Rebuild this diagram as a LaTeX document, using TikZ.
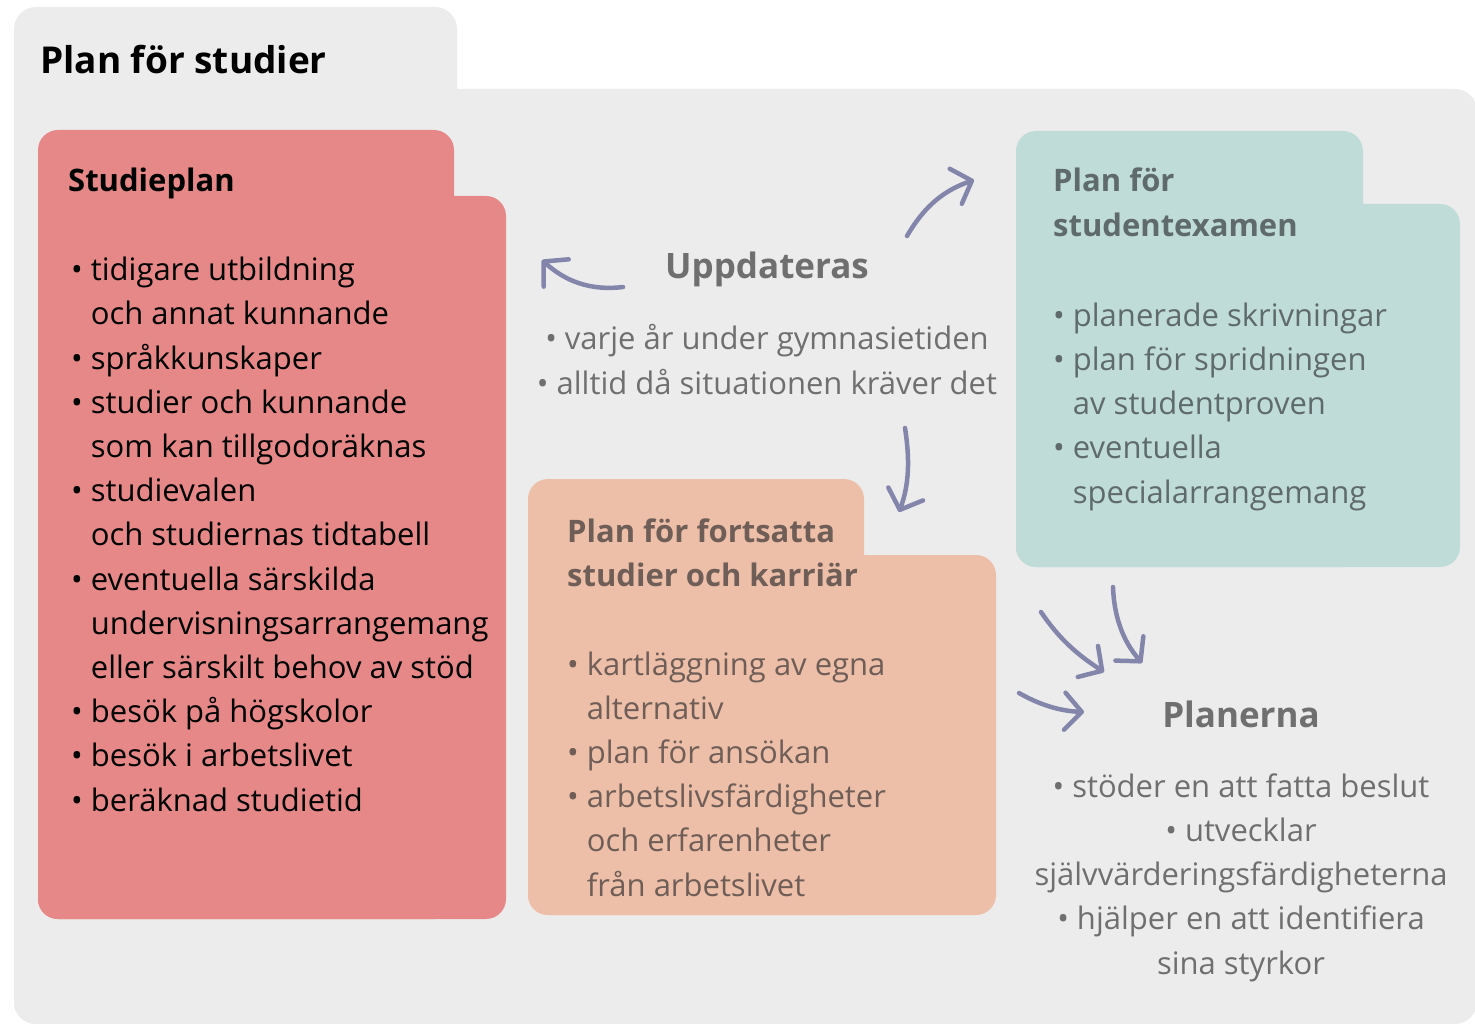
\documentclass[tikz,border=0pt]{standalone}
\usepackage{fontspec}
\setmainfont{Open Sans}
\usetikzlibrary{arrows.meta}
\definecolor{bgc}{HTML}{ECECEC}
\definecolor{redc}{HTML}{E68888}
\definecolor{orc}{HTML}{EEBFA8}
\definecolor{tlc}{HTML}{C0DCD8}
\definecolor{arc}{HTML}{8385AA}
\definecolor{greyt}{HTML}{6F6F6F}
\definecolor{ortxt}{HTML}{6E5E57}
\definecolor{tltxt}{HTML}{5E6B6A}
\tikzset{
  panel/.style={fill=#1, draw=none, rounded corners=20pt},
  bodytext/.style={inner sep=0pt, anchor=base west, align=left, font=\fontsize{31}{44.2}\selectfont},
  headtext/.style={inner sep=0pt, anchor=base west, align=left, font=\fontsize{31}{44.5}\selectfont\bfseries},
  ctext/.style={inner sep=0pt, anchor=base, align=center, font=\fontsize{31}{44.2}\selectfont, text=greyt},
  upar/.style={draw=arc, line width=4.5pt, line cap=round, -{Straight Barb[length=17pt,width=37pt,round]}}
}
\newcommand{\ind}{\phantom{• }}
\begin{document}
\begin{tikzpicture}[x=1pt,y=-1pt]
\useasboundingbox (0,0) rectangle (1475,1024);
\fill[white] (0,0) rectangle (1475,1024);
\begin{scope}
\clip (0,0) rectangle (1475,1024);
% background folder
\fill[panel=bgc, rounded corners=22pt] (14,7) rectangle (457,1024);
\fill[panel=bgc, rounded corners=22pt] (14,89) rectangle (1477,1024);
\end{scope}
\node[headtext, font=\fontsize{37}{40}\selectfont\bfseries] (title) at (40,74) {Plan för studier};

% red folder
\fill[panel=redc] (38,130) rectangle (454,919);
\fill[panel=redc] (38,196) rectangle (506,919);
\node[headtext] (sp) at (68,192) {Studieplan};
\node[bodytext] (splist) at (71,811) {• tidigare utbildning\\
\ind och annat kunnande\\
• språkkunskaper\\
• studier och kunnande\\
\ind som kan tillgodoräknas\\
• studievalen\\
\ind och studiernas tidtabell\\
• eventuella särskilda\\
\ind undervisningsarrangemang\\
\ind eller särskilt behov av stöd\\
• besök på högskolor\\
• besök i arbetslivet\\
• beräknad studietid};

% orange folder
\fill[panel=orc] (528,479) rectangle (864,915);
\fill[panel=orc] (528,555) rectangle (996,915);
\node[headtext, text=ortxt, font=\fontsize{31}{44}\selectfont\bfseries] (pf) at (567,586) {Plan för fortsatta\\studier och karriär};
\node[bodytext, text=ortxt] (pflist) at (567,896) {• kartläggning av egna\\
\ind alternativ\\
• plan för ansökan\\
• arbetslivsfärdigheter\\
\ind och erfarenheter\\
\ind från arbetslivet};

% teal folder
\fill[panel=tlc] (1016,131) rectangle (1363,567);
\fill[panel=tlc] (1016,204) rectangle (1460,567);
\node[headtext, text=tltxt, font=\fontsize{31}{45}\selectfont\bfseries] (ps) at (1053,237) {Plan för\\studentexamen};
\node[bodytext, text=tltxt] (pslist) at (1053,503) {• planerade skrivningar\\
• plan för spridningen\\
\ind av studentproven\\
• eventuella\\
\ind specialarrangemang};

% Uppdateras
\node[ctext, font=\fontsize{35}{40}\selectfont\bfseries] (upd) at (767,279) {Uppdateras};
\node[ctext] (updlist) at (767,394) {• varje år under gymnasietiden\\• alltid då situationen kräver det};

% Planerna
\node[ctext, font=\fontsize{35}{40}\selectfont\bfseries] (pl) at (1241,727) {Planerna};
\node[ctext] (pllist) at (1241,974) {• stöder en att fatta beslut\\• utvecklar\\självvärderingsfärdigheterna\\• hjälper en att identifiera\\sina styrkor};

% arrows
\coordinate (a1s) at (623,287); \coordinate (a1e) at (542,260);
\coordinate (a2s) at (907,236); \coordinate (a2e) at (974,180);
\coordinate (a3s) at (905,428); \coordinate (a3e) at (899,512);
\coordinate (a4s) at (1041,612); \coordinate (a4e) at (1104,672);
\coordinate (a5s) at (1113,587); \coordinate (a5e) at (1142,663);
\coordinate (a6s) at (1019,693); \coordinate (a6e) at (1084,712);
\draw[upar] (a1s) .. controls (590,291) and (565,281) .. (a1e);
\draw[upar] (a2s) .. controls (925,205) and (945,190) .. (a2e);
\draw[upar] (a3s) .. controls (910,460) and (909,485) .. (a3e);
\draw[upar] (a4s) .. controls (1060,640) and (1078,655) .. (a4e);
\draw[upar] (a5s) .. controls (1114,615) and (1122,640) .. (a5e);
\draw[upar] (a6s) .. controls (1040,705) and (1060,711) .. (a6e);
\end{tikzpicture}
\end{document}
